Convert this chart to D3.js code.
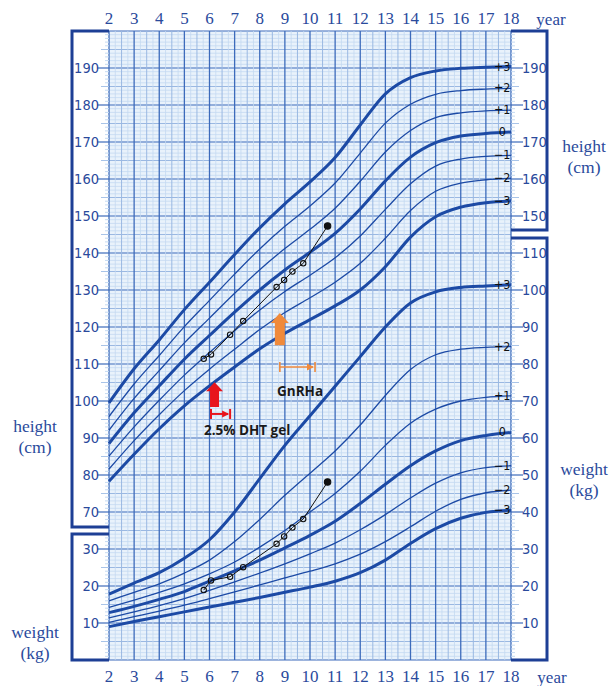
<!DOCTYPE html>
<html>
<head>
<meta charset="utf-8">
<title>growth chart</title>
<script src="https://cdn.jsdelivr.net/npm/d3@7"></script>
<style>
  body { margin: 0; padding: 0; background: #fff; }
  svg { display: block; }
  .tick-lab { font-family: 'Liberation Sans Narrow', 'DejaVu Sans Condensed', sans-serif; font-size: 14.5px; fill: #2a4a9c; }
  .yr { font-family: 'Liberation Serif', 'DejaVu Serif', serif; font-size: 17px; fill: #2a4a9c; }
  .ttl { font-family: 'Liberation Serif', 'DejaVu Serif', serif; font-size: 17.5px; fill: #2a4a9c; }
  .sd { font-family: 'Liberation Sans Narrow', 'DejaVu Sans Condensed', sans-serif; font-size: 12.5px; fill: #111; }
  .note { font-family: 'Open Sans', 'Noto Sans', sans-serif; font-size: 13.5px; font-weight: bold; fill: #1a1a1a; }
</style>
</head>
<body>
<div id="chart"></div>
<script>
// ages for the reference curves (years)
var ages = [2, 3, 4, 5, 6, 7, 8, 9, 10, 11, 12, 13, 14, 15, 16, 17, 18];
var sdNames = ["+3", "+2", "+1", "0", "\u22121", "\u22122", "\u22123"];

// height SD curves (cm)
var hP3 = [99.5, 108.7, 116.5, 124.7, 132.1, 139.6, 146.8, 153.3, 159.2, 165.8, 174.6, 183.0, 187.4, 189.2, 189.9, 190.2, 190.4];
var hP2 = [95.8, 104.6, 112.3, 120.1, 127.2, 134.3, 141.1, 147.2, 152.7, 158.9, 167.0, 175.1, 180.2, 182.9, 183.9, 184.3, 184.5];
var hP1 = [92.1, 100.7, 108.2, 115.7, 122.4, 129.1, 135.5, 141.2, 146.4, 152.1, 159.4, 167.3, 173.1, 176.6, 177.9, 178.4, 178.6];
var h0  = [88.5, 96.8, 104.1, 111.3, 117.7, 124.0, 130.0, 135.4, 140.2, 145.3, 151.9, 159.5, 165.9, 169.8, 171.6, 172.3, 172.7];
var hM1 = [85.1, 93.0, 100.2, 107.0, 113.1, 119.0, 124.6, 129.6, 134.0, 138.7, 144.6, 151.8, 158.7, 163.5, 165.4, 166.1, 166.4];
var hM2 = [81.6, 89.3, 96.3, 102.8, 108.6, 114.0, 119.3, 123.9, 127.9, 132.1, 137.2, 144.0, 151.5, 156.7, 158.9, 159.8, 160.2];
var hM3 = [78.3, 85.6, 92.5, 98.7, 104.1, 109.2, 114.1, 118.3, 122.0, 125.7, 130.0, 136.3, 144.3, 149.8, 152.4, 153.6, 154.1];

// weight SD curves (kg)
var wP3 = [17.8, 20.8, 23.6, 27.5, 32.5, 40.0, 49.0, 58.0, 66.0, 74.0, 82.0, 90.0, 96.5, 99.5, 100.7, 101.1, 101.4];
var wP2 = [16.0, 18.3, 20.6, 23.5, 27.0, 32.0, 38.0, 44.5, 50.5, 56.5, 63.5, 71.5, 78.5, 82.5, 84.0, 84.5, 84.7];
var wP1 = [14.2, 16.2, 18.3, 20.6, 23.3, 26.5, 30.5, 35.0, 40.0, 45.0, 51.0, 58.0, 64.0, 67.8, 70.0, 71.0, 71.4];
var w0  = [12.8, 14.5, 16.4, 18.5, 21.3, 24.1, 27.0, 30.3, 33.7, 37.5, 42.3, 47.5, 52.5, 56.5, 59.3, 60.7, 61.5];
var wM1 = [11.4, 13.0, 14.7, 16.6, 18.8, 21.1, 23.5, 26.0, 28.7, 31.6, 35.2, 39.3, 43.8, 47.8, 50.6, 52.0, 52.5];
var wM2 = [10.2, 11.7, 13.2, 14.8, 16.6, 18.4, 20.3, 22.2, 24.0, 26.0, 28.6, 32.0, 36.0, 40.2, 43.4, 45.2, 45.9];
var wM3 = [9.0, 10.4, 11.7, 13.0, 14.3, 15.6, 16.9, 18.3, 19.7, 21.3, 23.6, 27.0, 31.5, 35.5, 38.3, 39.9, 40.5];

// patient measurements
var ptAge    = [5.77, 6.06, 6.82, 7.34, 8.67, 8.97, 9.30, 9.73, 10.70];
var ptHeight = [111.4, 112.6, 117.9, 121.6, 130.8, 132.7, 135.0, 137.2, 147.3];
var ptWeight = [18.9, 21.5, 22.5, 25.1, 31.4, 33.4, 35.8, 38.1, 48.1];

// treatment periods
var dhtStart = 6.06, dhtEnd = 6.82, dhtArrowAge = 6.2;
var gnStart = 8.8, gnEnd = 10.2, gnArrowAge = 8.8;

var width = 612, height = 686;
var svg = d3.select("#chart").append("svg")
  .attr("width", width).attr("height", height);

var x = d3.scaleLinear().domain([2, 18]).range([109, 511]);
var yH = d3.scaleLinear().domain([30, 200]).range([660, 31]);
var yW = d3.scaleLinear().domain([0, 170]).range([660, 31]);

// grid background
svg.append("rect").attr("x", x(2)).attr("y", yH(200))
  .attr("width", x(18) - x(2)).attr("height", yH(30) - yH(200))
  .attr("fill", "#e9f2fb");

var grid = svg.append("g");
// horizontal grid lines, 1 cm each
d3.range(30, 201).forEach(function (v) {
  var c = "#c4d9f1", w = 0.8;
  if (v % 10 == 0) { c = "#3d6bbb"; w = 1.2; }
  else if (v % 5 == 0) { c = "#9ab8e2"; w = 1; }
  grid.append("line").attr("x1", x(2)).attr("x2", x(18))
    .attr("y1", yH(v)).attr("y2", yH(v))
    .attr("stroke", c).attr("stroke-width", w);
});
// vertical grid lines, quarter years
d3.range(2, 18.01, 0.25).forEach(function (a) {
  var c = "#c4d9f1", w = 0.8;
  if (Math.abs(a - Math.round(a)) < 0.01) { c = "#3d6bbb"; w = 1.3; }
  else if (Math.abs(a * 2 - Math.round(a * 2)) < 0.01) { c = "#9ab8e2"; w = 1; }
  grid.append("line").attr("x1", x(a)).attr("x2", x(a))
    .attr("y1", yH(200)).attr("y2", yH(30))
    .attr("stroke", c).attr("stroke-width", w);
});

// ticks and labels in the side boxes
function sideTicks(scale, lo, hi, side, labels) {
  var g = svg.append("g");
  d3.range(lo, hi + 1).forEach(function (v) {
    var len = 4, c = "#c4d9f1";
    if (v % 10 == 0) { len = 12; c = "#3d6bbb"; }
    else if (v % 5 == 0) { len = 8; c = "#a9c4e8"; }
    var x0 = side == "left" ? x(2) : x(18);
    var x1 = side == "left" ? x0 - len : x0 + len;
    g.append("line").attr("x1", x0).attr("x2", x1)
      .attr("y1", scale(v)).attr("y2", scale(v))
      .attr("stroke", c).attr("stroke-width", v % 10 == 0 ? 1.2 : 1);
  });
  labels.forEach(function (v) {
    g.append("text").attr("class", "tick-lab")
      .attr("x", side == "left" ? x(2) - 10 : x(18) + 11)
      .attr("y", scale(v) + 5)
      .attr("text-anchor", side == "left" ? "end" : "start")
      .text(v);
  });
}
sideTicks(yH, 66, 200, "left", d3.range(70, 191, 10));
sideTicks(yW, 1, 34, "left", [10, 20, 30]);
sideTicks(yH, 146, 200, "right", d3.range(150, 191, 10));
sideTicks(yW, 1, 113, "right", d3.range(10, 111, 10));

// frames
var frame = "#1d3f95";
function box(pts) {
  svg.append("path").attr("d", d3.line()(pts))
    .attr("fill", "none").attr("stroke", frame).attr("stroke-width", 3);
}
box([[x(2), yH(200)], [72, yH(200)], [72, 527], [x(2), 527]]);
box([[x(2), 534], [72, 534], [72, yW(0)], [x(2), yW(0)]]);
box([[x(18), yH(200)], [547, yH(200)], [547, 230], [x(18), 230]]);
box([[x(18), 238], [547, 238], [547, yW(0)], [x(18), yW(0)]]);

// year labels top and bottom
ages.forEach(function (a) {
  svg.append("text").attr("class", "yr").attr("x", x(a)).attr("y", 24)
    .attr("text-anchor", "middle").text(a);
  svg.append("text").attr("class", "yr").attr("x", x(a)).attr("y", 682)
    .attr("text-anchor", "middle").text(a);
});
svg.append("text").attr("class", "yr").attr("x", 551).attr("y", 25).attr("text-anchor", "middle").text("year");
svg.append("text").attr("class", "yr").attr("x", 552).attr("y", 683).attr("text-anchor", "middle").text("year");

// axis titles
function title(cx, cy, a, b) {
  svg.append("text").attr("class", "ttl").attr("x", cx).attr("y", cy).attr("text-anchor", "middle").text(a);
  svg.append("text").attr("class", "ttl").attr("x", cx).attr("y", cy + 21).attr("text-anchor", "middle").text(b);
}
title(35, 432, "height", "(cm)");
title(35, 638, "weight", "(kg)");
title(584, 152, "height", "(cm)");
title(584, 475, "weight", "(kg)");

// SD curves
var curveCol = "#1c4aa5";
var hSeries = [hP3, hP2, hP1, h0, hM1, hM2, hM3];
var wSeries = [wP3, wP2, wP1, w0, wM1, wM2, wM3];
function drawCurves(series, scale) {
  series.forEach(function (vals, i) {
    var thick = (i == 0 || i == 3 || i == 6);
    var line = d3.line()
      .x(function (d, j) { return x(ages[j]); })
      .y(function (d) { return scale(d); })
      .curve(d3.curveMonotoneX);
    svg.append("path").datum(vals).attr("d", line)
      .attr("fill", "none").attr("stroke", curveCol)
      .attr("stroke-width", thick ? 3 : 1.3);
    svg.append("text").attr("class", "sd")
      .attr("x", x(17.65)).attr("y", scale(vals[vals.length - 1]) + 4)
      .attr("text-anchor", "middle").text(sdNames[i]);
  });
}
drawCurves(hSeries, yH);
drawCurves(wSeries, yW);

// patient data
function drawPatient(vals, scale) {
  var line = d3.line().x(function (d, i) { return x(ptAge[i]); }).y(function (d) { return scale(d); });
  svg.append("path").datum(vals).attr("d", line)
    .attr("fill", "none").attr("stroke", "#111").attr("stroke-width", 1);
  svg.selectAll(null).data(vals).enter().append("circle")
    .attr("cx", function (d, i) { return x(ptAge[i]); })
    .attr("cy", function (d) { return scale(d); })
    .attr("r", function (d, i) { return i == vals.length - 1 ? 3.2 : 2.7; })
    .attr("fill", function (d, i) { return i == vals.length - 1 ? "#111" : "none"; })
    .attr("stroke", "#111").attr("stroke-width", 1.1);
}
drawPatient(ptHeight, yH);
drawPatient(ptWeight, yW);

// treatment arrows and bars
function upArrow(cx, tipY, baseY, bodyW, headW, headH, col) {
  var pts = [[cx, tipY], [cx + headW / 2, tipY + headH], [cx + bodyW / 2, tipY + headH],
             [cx + bodyW / 2, baseY], [cx - bodyW / 2, baseY], [cx - bodyW / 2, tipY + headH],
             [cx - headW / 2, tipY + headH]];
  svg.append("path").attr("d", d3.line()(pts) + "Z").attr("fill", col);
}
function period(a0, a1, yy, col, w) {
  var g = svg.append("g").attr("stroke", col).attr("stroke-width", w);
  g.append("line").attr("x1", x(a0)).attr("x2", x(a1) - 2).attr("y1", yy).attr("y2", yy);
  g.append("line").attr("x1", x(a0)).attr("x2", x(a0)).attr("y1", yy - 5).attr("y2", yy + 5);
  g.append("line").attr("x1", x(a1)).attr("x2", x(a1)).attr("y1", yy - 5).attr("y2", yy + 5);
  svg.append("path").attr("d", d3.line()([[x(a1) - 1, yy], [x(a1) - 8, yy - 3.5], [x(a1) - 8, yy + 3.5]]) + "Z")
    .attr("fill", col);
}
var red = "#e8141b", orange = "#f08a3b";
upArrow(x(dhtArrowAge), yH(105.1), yH(98.4), 9, 17, 9, red);
period(dhtStart, dhtEnd, yH(96.5), red, 2);
svg.append("text").attr("class", "note").attr("x", 204).attr("y", 435).text("2.5% DHT gel");

upArrow(x(gnArrowAge), yH(123.8), yH(115.1), 10, 18, 10, orange);
period(gnStart, gnEnd, yH(109.2), orange, 1.6);
svg.append("text").attr("class", "note").attr("x", 277).attr("y", 396).text("GnRHa");
</script>
</body>
</html>
